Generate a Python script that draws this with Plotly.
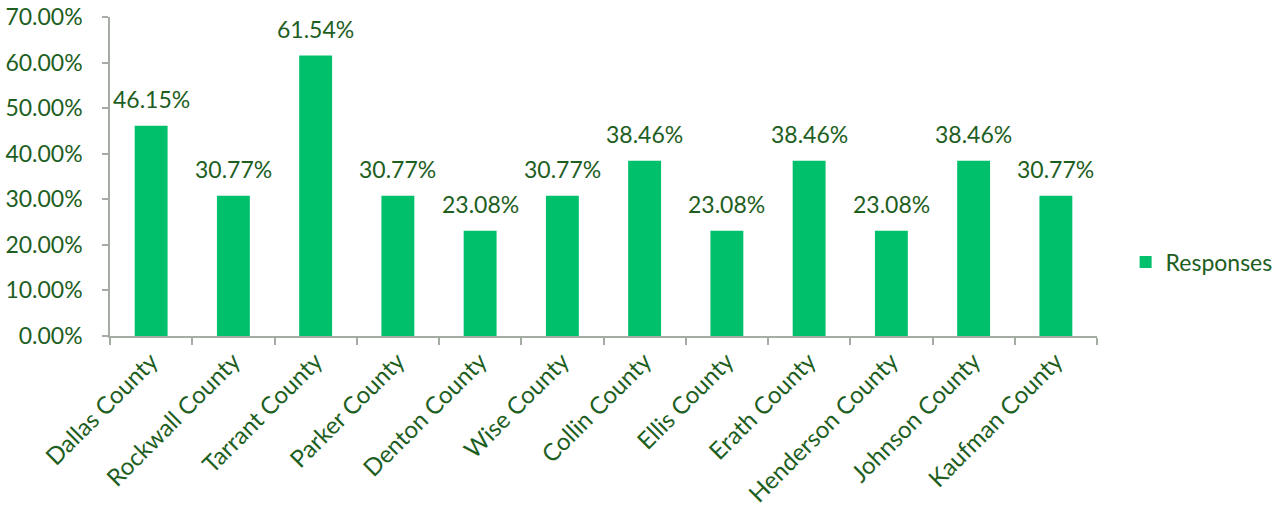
import plotly.graph_objects as go

categories = ["Dallas County", "Rockwall County", "Tarrant County", "Parker County",
              "Denton County", "Wise County", "Collin County", "Ellis County",
              "Erath County", "Henderson County", "Johnson County", "Kaufman County"]
responses = [0.4615, 0.3077, 0.6154, 0.3077, 0.2308, 0.3077,
             0.3846, 0.2308, 0.3846, 0.2308, 0.3846, 0.3077]

TEXT = "#1E5E1E"
AXIS = "#A4ACA4"
BAR = "#00C06C"
FONT = "Lato, Carlito, Calibri, sans-serif"
FS = 23

fig = go.Figure()
fig.add_trace(go.Bar(
    x=categories, y=responses, name="Responses",
    marker=dict(color=BAR, line=dict(width=0)),
    width=0.4,
))

for c, v in zip(categories, responses):
    fig.add_annotation(
        x=c, y=v, xref="x", yref="y", text=f"{v:.2%}", showarrow=False,
        yanchor="middle", yshift=27,
        font=dict(size=FS, color=TEXT, family=FONT),
    )

fig.update_layout(
    width=1288, height=513,
    margin=dict(l=110, r=191, t=17, b=177, autoexpand=False),
    paper_bgcolor="white", plot_bgcolor="white",
    font=dict(family=FONT, color=TEXT, size=FS),
    showlegend=True,
    legend=dict(x=1.029, y=0.232, xanchor="left", yanchor="middle",
                itemwidth=30,
                font=dict(size=FS, color=TEXT, family=FONT)),
)
fig.update_xaxes(
    type="category", showline=True, linecolor=AXIS, linewidth=1.5,
    ticks="outside", tickson="boundaries", ticklen=7, tickcolor=AXIS, tickwidth=1.5,
    tickangle=-45, tickfont=dict(size=24, color=TEXT, family=FONT),
    showgrid=False, automargin=False,
)
fig.update_yaxes(
    range=[0, 0.7], dtick=0.1, tick0=0, tickformat=".2%",
    showline=True, linecolor=AXIS, linewidth=1.5,
    ticks="outside", ticklen=6, tickcolor=AXIS, tickwidth=1.5,
    ticklabelstandoff=15,
    tickfont=dict(size=FS, color=TEXT, family=FONT),
    showgrid=False, zeroline=False, automargin=False,
)

fig.write_html("out.html", config={"displayModeBar": False},
               post_script="document.body.style.margin='0';")
